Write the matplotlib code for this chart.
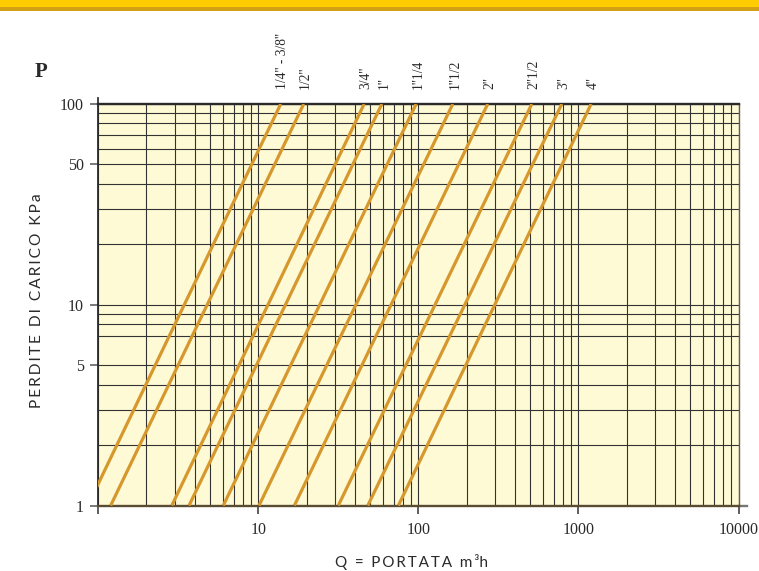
import matplotlib
matplotlib.use("Agg")
import matplotlib.pyplot as plt
from matplotlib.patches import Rectangle
from matplotlib.ticker import FixedLocator, LogLocator, NullFormatter

# ---------------- data ----------------
pipe_sizes = ["1/4'' - 3/8''", "1/2''", "3/4''", "1''", "1''1/4",
              "1''1/2", "2''", "2''1/2", "3''", "4''"]
# flow Q (m3/h) where each line meets P = 1 kPa and P = 100 kPa
q_at_p1 = [0.86, 1.195, 2.88, 3.69, 6.04, 10.1, 16.8, 31.6, 48.3, 75.0]
q_at_p100 = [13.8, 19.2, 45.8, 59.1, 96.8, 164.0, 271.0, 511.0, 787.0, 1200.0]
p_ends = [1, 100]

x_major = [1, 10, 100, 1000, 10000]
x_labels = ["", "10", "100", "1000", "10000"]
y_major = [1, 5, 10, 50, 100]
y_labels = ["1", "5", "10", "50", "100"]
y_minor = [2, 3, 4, 7, 8, 9, 20, 30, 40, 60, 70, 80, 90]

# ---------------- style ----------------
LINE_C = "#D6982C"
BG_C = "#FFFAD6"
GRID_C = "#333333"
TXT_C = "#2a2a2a"
SERIF = ["Liberation Serif", "DejaVu Serif"]
SANS = ["Lato", "DejaVu Sans"]

W, H = 759, 571
fig = plt.figure(figsize=(W / 100, H / 100), dpi=100)
fig.patch.set_facecolor("white")

# top banner
fig.patches.append(Rectangle((0, 1 - 7.5 / H), 1, 7.5 / H, transform=fig.transFigure,
                             facecolor="#FFCC00", edgecolor="none", zorder=0))
fig.patches.append(Rectangle((0, 1 - 10.5 / H), 1, 3.0 / H, transform=fig.transFigure,
                             facecolor="#D2A214", edgecolor="none", zorder=0))

left, right = 98.3 / W, 738.5 / W
top, bottom = 1 - 104 / H, 1 - 505.5 / H
ax = fig.add_axes([left, bottom, right - left, top - bottom])
ax.set_facecolor(BG_C)
ax.set_xscale("log")
ax.set_yscale("log")
ax.set_xlim(1, 10000)
ax.set_ylim(1, 100)

for q1, q100 in zip(q_at_p1, q_at_p100):
    ax.plot([q1, q100], p_ends, color=LINE_C, lw=2.3, solid_capstyle="butt", zorder=3)

for q100, lab in zip(q_at_p100, pipe_sizes):
    ax.annotate(lab, xy=(q100, 1), xycoords=("data", "axes fraction"),
                xytext=(1.5, 11), textcoords="offset points", rotation=90,
                ha="center", va="bottom", fontsize=9.8, family=SERIF, color=TXT_C)

# ticks
ax.xaxis.set_major_locator(FixedLocator(x_major))
ax.set_xticklabels(x_labels)
ax.xaxis.set_minor_locator(LogLocator(base=10, subs=range(2, 10), numticks=20))
ax.xaxis.set_minor_formatter(NullFormatter())
ax.yaxis.set_major_locator(FixedLocator(y_major))
ax.set_yticklabels(y_labels)
ax.yaxis.set_minor_locator(FixedLocator(y_minor))
ax.yaxis.set_minor_formatter(NullFormatter())

ax.tick_params(axis="x", which="major", direction="out", length=6, width=1.1,
               color="#333333", pad=6, labelsize=11.5, labelcolor=TXT_C)
ax.tick_params(axis="y", which="major", direction="out", length=5.5, width=1.1,
               color="#555555", pad=5, labelsize=11.5, labelcolor=TXT_C)
ax.tick_params(which="minor", length=0)
for t in ax.get_xticklabels() + ax.get_yticklabels():
    t.set_family(SERIF)

ax.grid(True, which="both", color=GRID_C, lw=0.8, zorder=1)
ax.set_axisbelow(True)

ax.spines["top"].set_linewidth(1.7)
ax.spines["top"].set_color("#2a2a2a")
ax.spines["bottom"].set_linewidth(1.7)
ax.spines["bottom"].set_color("#5a4c30")
ax.spines["left"].set_linewidth(1.3)
ax.spines["left"].set_color("#2a2a2a")
ax.spines["right"].set_linewidth(1.0)
ax.spines["right"].set_color("#6b5d3c")

# small axis extensions (top-left, bottom-right)
ax.plot([0, 0], [1, 1 + 6 / 401.5], transform=ax.transAxes, clip_on=False,
        color="#333333", lw=1.3)
ax.plot([1, 1 + 8 / 640], [0, 0], transform=ax.transAxes, clip_on=False,
        color="#777777", lw=1.7)


def spaced(s, sp="\u2009"):
    return sp.join(list(s))


fig.text(0.0487, 1 - 301 / H, spaced("PERDITE DI CARICO KPa"), rotation=90,
         ha="center", va="center", fontsize=11.2, family=SANS, color=TXT_C)
fig.text(411.7 / W, 1 - 561.5 / H, spaced("Q = PORTATA m") + "\u2009³" + "h",
         ha="center", va="center", fontsize=11, family=SANS, color=TXT_C)
fig.text(41.3 / W, 1 - 72 / H, "P", ha="center", va="center", fontsize=15,
         fontweight="bold", family=SERIF, color=TXT_C)

fig.savefig("out.png", dpi=100, facecolor="white")
